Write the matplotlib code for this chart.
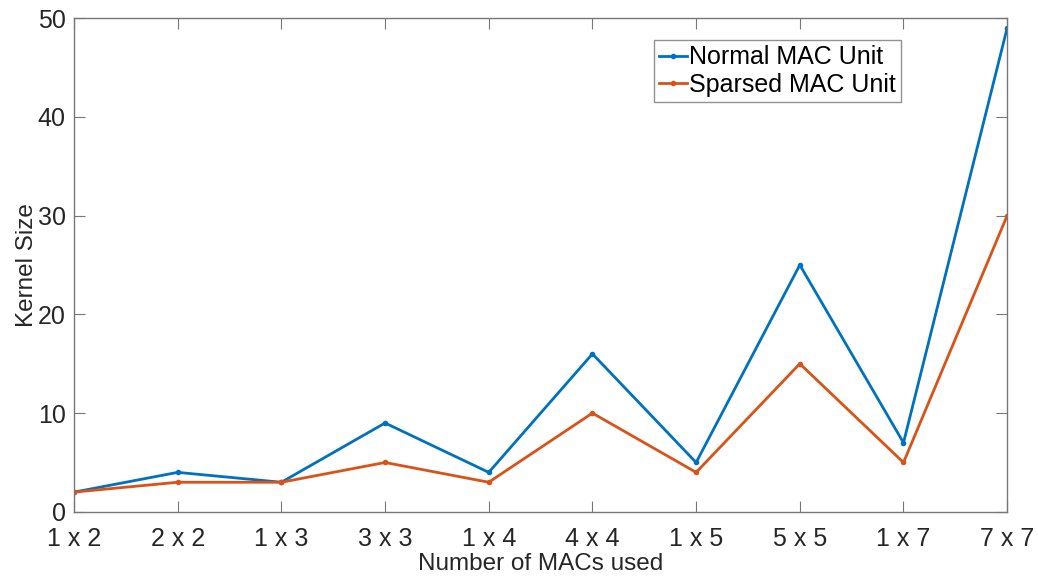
import matplotlib
matplotlib.use('Agg')
import matplotlib.pyplot as plt

categories = ['1 x 2', '2 x 2', '1 x 3', '3 x 3', '1 x 4', '4 x 4', '1 x 5', '5 x 5', '1 x 7', '7 x 7']
normal_mac = [2, 4, 3, 9, 4, 16, 5, 25, 7, 49]
sparsed_mac = [2, 3, 3, 5, 3, 10, 4, 15, 5, 30]

plt.rcParams['font.family'] = ['Liberation Sans', 'DejaVu Sans']

fig = plt.figure(figsize=(10.38, 5.83), dpi=100)
ax = fig.add_axes([0.0713, 0.122, 0.899, 0.847])

x = list(range(len(categories)))
ax.plot(x, normal_mac, color='#0072BD', marker='.', markersize=6, linewidth=2, label='Normal MAC Unit')
ax.plot(x, sparsed_mac, color='#D95319', marker='.', markersize=6, linewidth=2, label='Sparsed MAC Unit')

ax.set_xlim(0, len(categories) - 1)
ax.set_ylim(0, 50)
ax.set_xticks(x)
ax.set_xticklabels(categories)
ax.set_yticks([0, 10, 20, 30, 40, 50])
ax.tick_params(direction='in', length=8, width=0.8, color='#777777', labelsize=18,
               labelcolor='#262626', top=True, right=True)
ax.tick_params(axis='x', pad=11)
ax.tick_params(axis='y', pad=6)
for s in ax.spines.values():
    s.set_color('#777777')
    s.set_linewidth(1)

ax.set_xlabel('Number of MACs used', fontsize=17.5, color='#262626', labelpad=1)
ax.set_ylabel('Kernel Size', fontsize=17.5, color='#262626', labelpad=0)

leg = ax.legend(loc='upper right', bbox_to_anchor=(0.886, 0.955), fontsize=18, frameon=True,
                fancybox=False, edgecolor='#777777', handlelength=1.1, handletextpad=0.1,
                borderpad=0.2, labelspacing=0.15, borderaxespad=0)
leg.get_frame().set_linewidth(1)

plt.savefig('out.png', dpi=100)
